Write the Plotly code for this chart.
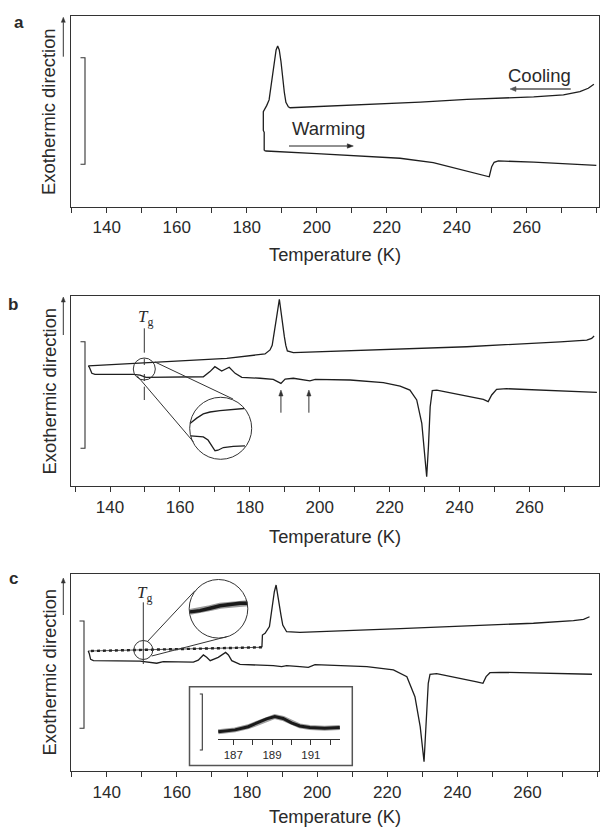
import plotly.graph_objects as go

W, H = 600, 829

# ---------------- data (temperature in K, heat flow in arbitrary units) ----------------
main_tickvals = [140, 160, 180, 200, 220, 240, 260]
main_ticktext = ["140", "160", "180", "200", "220", "240", "260"]
inset_tickvals = [187, 189, 191]
inset_ticktext = ["187", "189", "191"]

# panel a : cooling (from high T to low T) and warming
a_cool_T = [279.2, 277.6, 275.2, 270.5, 262.0, 251.5, 242.9, 229.6, 215.2, 200.0, 192.4, 191.9, 191.2,
            190.75, 190.3, 189.8, 189.3, 188.85, 188.4, 187.9, 187.4, 186.9, 186.4, 185.7, 185.0, 184.75,
            184.75, 185.0, 185.0]
a_cool_v = [64.2, 62.1, 60.3, 58.6, 57.6, 56.8, 56.3, 54.8, 53.7, 52.6, 51.9, 52.4, 54.7,
            60.0, 68.2, 76.0, 82.2, 84.3, 82.2, 76.0, 68.2, 61.2, 56.0, 53.0, 51.1, 49.8,
            40.0, 39.0, 29.5]
a_warm_T = [185.0, 185.5, 200.0, 215.2, 223.8, 233.3, 240.9, 246.7, 249.3, 250.0, 250.7, 251.9, 262.0, 279.9]
a_warm_v = [29.5, 29.2, 27.8, 26.2, 25.4, 23.1, 19.6, 17.1, 15.7, 21.0, 23.3, 24.0, 23.4, 21.7]

# panel b
b_cool_T = [278.5, 277.8, 276.4, 268.8, 242.1, 194.4, 192.45, 190.74, 190.3, 189.88, 189.21, 188.45,
            187.69, 186.92, 186.4, 185.78, 184.35, 173.4, 149.5, 133.8]
b_cool_v = [78.9, 77.7, 76.8, 75.9, 73.3, 70.2, 70.2, 71.1, 74.0, 78.6, 89.1, 98.3,
            89.1, 78.6, 74.0, 71.6, 69.5, 67.2, 64.6, 63.2]
b_warm_T = [133.8, 134.1, 134.8, 135.7, 146.7, 148.6, 150.3, 152.4, 163.8, 166.7,
            168.6, 170.0, 171.95, 174.1, 175.8, 177.7, 182.9, 186.7, 188.9, 190.1,
            192.45, 194.4, 197.2, 198.7, 208.7, 218.2, 223.0, 225.8, 227.75, 229.2,
            229.8, 230.6, 231.1, 231.6, 232.2, 233.5, 246.8, 248.2, 249.2, 250.6,
            253.5, 279.3]
b_warm_v = [63.2, 62.5, 59.3, 58.8, 58.8, 58.3, 57.2, 57.2, 57.2, 57.5,
            60.2, 62.8, 60.5, 62.5, 59.3, 57.2, 56.7, 56.1, 54.0, 56.3,
            56.7, 56.1, 55.3, 56.1, 55.8, 54.4, 52.6, 50.5, 45.3, 33.0,
            18.9, 4.9, 20.7, 41.7, 50.2, 50.5, 45.6, 44.4, 47.9, 50.9,
            51.2, 49.3]
# magnified view of the Tg region in b
b_zoom_up_T = [146.70, 147.38, 148.05, 148.73, 149.74, 150.96, 152.18]
b_zoom_up_v = [62.5, 63.5, 64.3, 64.65, 64.9, 65.1, 65.3]
b_zoom_lo_T = [146.77, 148.05, 148.53, 148.93, 149.24, 149.54, 150.08, 151.09, 152.28]
b_zoom_lo_v = [60.2, 60.0, 59.4, 58.3, 57.4, 57.5, 58.0, 58.2, 58.3]
b_arrow_T = [188.9, 196.9]

# panel c
c_cool_T = [277.7, 276.0, 273.1, 261.7, 223.7, 195.1, 191.3, 190.2, 189.7, 189.2, 188.75, 188.3,
            187.8, 187.35, 186.4, 185.15, 184.4, 184.25]
c_cool_v = [78.3, 77.0, 76.3, 75.0, 72.3, 70.4, 70.7, 74.1, 79.0, 85.1, 91.0, 94.4,
            91.0, 85.1, 73.3, 69.9, 69.0, 62.8]
c_noisy_T = [184.25, 164.7, 150.4, 134.7]
c_noisy_v = [62.8, 62.1, 61.4, 60.9]
c_warm_T = [134.7, 135.0, 135.4, 136.2, 149.5, 152.3, 154.25, 156.1, 164.7, 166.1,
            167.55, 168.5, 169.5, 171.8, 173.9, 174.7, 175.65, 178.0, 183.7, 187.5,
            189.9, 191.3, 195.1, 197.5, 199.4, 214.2, 221.75, 225.6, 227.9, 229.4,
            230.5, 231.1, 231.7, 232.2, 234.1, 245.55, 247.3, 248.2, 249.3, 252.2,
            278.4]
c_warm_v = [60.9, 59.7, 56.7, 56.0, 55.8, 55.3, 54.7, 55.5, 55.3, 56.3,
            58.9, 57.7, 56.0, 57.7, 60.2, 58.9, 56.0, 54.1, 53.8, 53.5,
            53.0, 53.5, 53.0, 52.6, 54.0, 53.0, 51.3, 47.9, 37.7, 22.5,
            4.7, 22.5, 44.5, 49.1, 49.4, 45.3, 44.5, 47.9, 49.9, 50.1,
            49.1]
c_zoom_T = [147.79, 148.72, 149.64, 150.57, 151.49, 152.42, 153.11]
c_zoom_v = [60.9, 61.1, 61.5, 61.9, 62.1, 62.3, 62.3]
c_inset_T = [186.23, 187.09, 187.77, 188.29, 188.72, 189.14, 189.57, 190.0, 190.43, 190.94, 191.71, 192.49]
c_inset_v = [1.9, 2.4, 3.2, 4.2, 5.2, 5.8, 5.3, 4.2, 3.4, 3.0, 2.8, 3.0]

# ---------------- helpers ----------------
def px(x):
    return x / W

def py(y):
    return 1 - y / H

FONT = "Liberation Sans, Arial, sans-serif"
SERIF = "Liberation Serif, Times New Roman, serif"
INK = "#1e1e1e"
AX = "#333333"
TXT = "#2a2a2a"

fig = go.Figure()

def line(x, y, xa, ya, width=1.3, color=INK, dash="solid"):
    fig.add_trace(go.Scatter(x=x, y=y, mode="lines", xaxis=xa, yaxis=ya,
                             line=dict(color=color, width=width, dash=dash), showlegend=False,
                             hoverinfo="skip"))

line(a_cool_T, a_cool_v, "x", "y")
line(a_warm_T, a_warm_v, "x", "y")
line(b_cool_T, b_cool_v, "x2", "y2")
line(b_warm_T, b_warm_v, "x2", "y2")
line(b_zoom_up_T, b_zoom_up_v, "x4", "y4")
line(b_zoom_lo_T, b_zoom_lo_v, "x4", "y4")
line(c_cool_T, c_cool_v, "x3", "y3")
line(c_noisy_T, c_noisy_v, "x3", "y3", width=1.0, color="#555555")
line(c_noisy_T, c_noisy_v, "x3", "y3", width=2.4, color="#222222", dash="dot")
line(c_warm_T, c_warm_v, "x3", "y3")
line(c_zoom_T, c_zoom_v, "x5", "y5", width=6, color="#9a9a9a")
line(c_zoom_T, c_zoom_v, "x5", "y5", width=3.5, color="#1a1a1a")
line(c_inset_T, c_inset_v, "x6", "y6", width=5, color="#a0a0a0")
line(c_inset_T, c_inset_v, "x6", "y6", width=3, color="#1a1a1a")

def main_x(rng, anchor):
    return dict(domain=[px(71), px(599)], range=rng, anchor=anchor,
                showline=True, mirror=True, linecolor=AX, linewidth=1.3,
                ticks="outside", ticklen=5, tickwidth=1, tickcolor=AX,
                tickmode="array", tickvals=main_tickvals, ticktext=main_ticktext,
                minor=dict(dtick=10, tick0=130, ticks="outside", ticklen=5, tickwidth=1, tickcolor=AX),
                tickfont=dict(size=17, color=TXT, family=FONT),
                showgrid=False, zeroline=False, fixedrange=True)

def main_y(ytop, ybot, anchor):
    return dict(domain=[py(ybot), py(ytop)], range=[0, 100], anchor=anchor,
                showline=True, mirror=True, linecolor=AX, linewidth=1.3,
                ticks="", showticklabels=False, showgrid=False, zeroline=False, fixedrange=True)

def hidden(domain, rng, anchor):
    return dict(domain=domain, range=rng, anchor=anchor, visible=False, fixedrange=True)

XR_B = [128.84, 279.9]

layout = dict(
    width=W, height=H, margin=dict(l=0, r=0, t=0, b=0),
    paper_bgcolor="white", plot_bgcolor="rgba(0,0,0,0)",
    font=dict(family=FONT, color=TXT), showlegend=False,
    xaxis=main_x([129.8, 280.66], "y"),
    yaxis=main_y(16, 206.7, "x"),
    xaxis2=main_x(XR_B, "y2"),
    yaxis2=main_y(296, 486, "x2"),
    xaxis3=main_x([129.8, 280.4], "y3"),
    yaxis3=main_y(574, 771, "x3"),
    xaxis4=hidden([px(189.7), px(251.7)], [146.67, 152.96], "y4"),
    yaxis4=hidden([py(459.3), py(397.3)], [55.8, 67.4], "x4"),
    xaxis5=hidden([px(189.2), px(247.8)], [147.72, 153.14], "y5"),
    yaxis5=hidden([py(638.3), py(579.3)], [56.6, 66.2], "x5"),
    xaxis6=dict(domain=[px(217.7), px(340)], range=[186.2, 192.5], anchor="y6",
                showline=True, linecolor=AX, linewidth=1.2,
                ticks="outside", ticklen=5, tickwidth=1, tickcolor=AX,
                tickmode="array", tickvals=inset_tickvals, ticktext=inset_ticktext,
                minor=dict(dtick=1, tick0=186, ticks="outside", ticklen=5, tickwidth=1, tickcolor=AX),
                tickfont=dict(size=11.5, color=TXT, family=FONT),
                showgrid=False, zeroline=False, fixedrange=True),
    yaxis6=hidden([py(739.3), py(700)], [0, 10], "x6"),
)
fig.update_layout(**layout)

shapes = []

def seg(x0, y0, x1, y1, color=AX, width=1):
    shapes.append(dict(type="line", xref="paper", yref="paper",
                       x0=px(x0), y0=py(y0), x1=px(x1), y1=py(y1),
                       line=dict(color=color, width=width)))

def bracket(x, y0, y1, tick=4.5):
    shapes.append(dict(type="path", xref="paper", yref="paper",
                       path=f"M {px(x - tick)},{py(y0)} L {px(x)},{py(y0)} L {px(x)},{py(y1)} L {px(x - tick)},{py(y1)}",
                       line=dict(color=AX, width=1.1)))

def circle(cx, cy, r, width=1):
    shapes.append(dict(type="circle", xref="paper", yref="paper",
                       x0=px(cx - r), x1=px(cx + r), y0=py(cy + r), y1=py(cy - r),
                       line=dict(color=AX, width=width)))

def arrow(xh, yh, xt, yt, color=AX, width=1, L=6.0, hw=2.4):
    dx, dy = xh - xt, yh - yt
    n = (dx * dx + dy * dy) ** 0.5
    ux, uy = dx / n, dy / n
    bx, by = xh - ux * L, yh - uy * L
    seg(xt, yt, bx, by, color=color, width=width)
    p1 = (bx - uy * hw, by + ux * hw)
    p2 = (bx + uy * hw, by - ux * hw)
    shapes.append(dict(type="path", xref="paper", yref="paper",
                       path=f"M {px(xh)},{py(yh)} L {px(p1[0])},{py(p1[1])} L {px(p2[0])},{py(p2[1])} Z",
                       fillcolor=color, line=dict(color=color, width=0.5)))

# scale brackets
bracket(85, 57.7, 164.3)
bracket(85, 341.7, 448.3)
bracket(84, 621, 728.3)

# panel b: Tg marker, magnifier
for ya, yb in [(328.3, 352.7), (358.5, 365), (374, 381), (386.7, 400)]:
    seg(144.3, ya, 144.3, yb, width=1)
circle(144.3, 369, 11)
circle(220.7, 428.3, 31)
seg(155, 362, 233, 399)
seg(137.3, 376, 193.3, 441.7)

# panel c: Tg marker, magnifier, inset frame
seg(143.3, 602.3, 143.3, 664, width=1)
circle(143.3, 650, 9.5)
circle(218.5, 608.8, 29.3)
seg(147.3, 641.7, 195, 590.7)
seg(151.7, 656, 226.7, 636.7)
shapes.append(dict(type="rect", xref="paper", yref="paper",
                   x0=px(189.5), x1=px(352.3), y0=py(765.5), y1=py(686.7),
                   line=dict(color="#555555", width=1.5)))
bracket(202.3, 694, 750, tick=2.5)

# exothermic-direction arrows
for yh, yt in [(17.3, 56.7), (297, 335), (578, 615)]:
    arrow(63.3, yh, 63.3, yt, color=AX, width=1, L=5, hw=2)

# cooling / warming arrows
arrow(510, 89, 570.7, 89, color="#555555", width=1.4, L=6, hw=2.4)
arrow(353.3, 146, 289, 146, color="#222222", width=1, L=6, hw=2.2)

# panel b arrows marking the small features (x in data units of axis x2)
kx = (XR_B[1] - XR_B[0]) / 528.0   # K per pixel on panel b
for t in b_arrow_T:
    shapes.append(dict(type="line", xref="x2", yref="paper", x0=t, x1=t,
                       y0=py(412.7), y1=py(395), line=dict(color=AX, width=1)))
    shapes.append(dict(type="path", xref="x2", yref="paper",
                       path=f"M {t},{py(390)} L {t - 2.1 * kx},{py(396)} L {t + 2.1 * kx},{py(396)} Z",
                       fillcolor=AX, line=dict(color=AX, width=0.5)))

fig.update_layout(shapes=shapes)

ann = []

def text(x, y, s, size=17, angle=0, family=FONT, color=TXT, xanchor="center"):
    ann.append(dict(x=px(x), y=py(y), xref="paper", yref="paper", text=s, showarrow=False,
                    font=dict(size=size, family=family, color=color), textangle=angle,
                    xanchor=xanchor, yanchor="middle"))

# panel letters
text(18.5, 22.7, "<b>a</b>", size=17)
text(13.4, 305, "<b>b</b>", size=17)
text(13.4, 578.3, "<b>c</b>", size=17)

# y labels
for yc in [111.5, 391, 672]:
    text(48.5, yc, "Exothermic direction", size=18.4, angle=-90)

# x titles
for yc in [255, 536, 816]:
    text(335, yc, "Temperature (K)", size=18.3)

# panel a labels
text(539, 75, "Cooling", size=18.5)
text(328, 129, "Warming", size=18.5)

# Tg labels
text(145, 318, "<i>T</i><sub>g</sub>", size=17, family=SERIF)
text(144, 594, "<i>T</i><sub>g</sub>", size=17, family=SERIF)

fig.update_layout(annotations=ann)

fig.write_html("out.html", config={"displayModeBar": False},
               post_script="document.body.style.margin='0px';document.body.style.overflow='hidden';")
